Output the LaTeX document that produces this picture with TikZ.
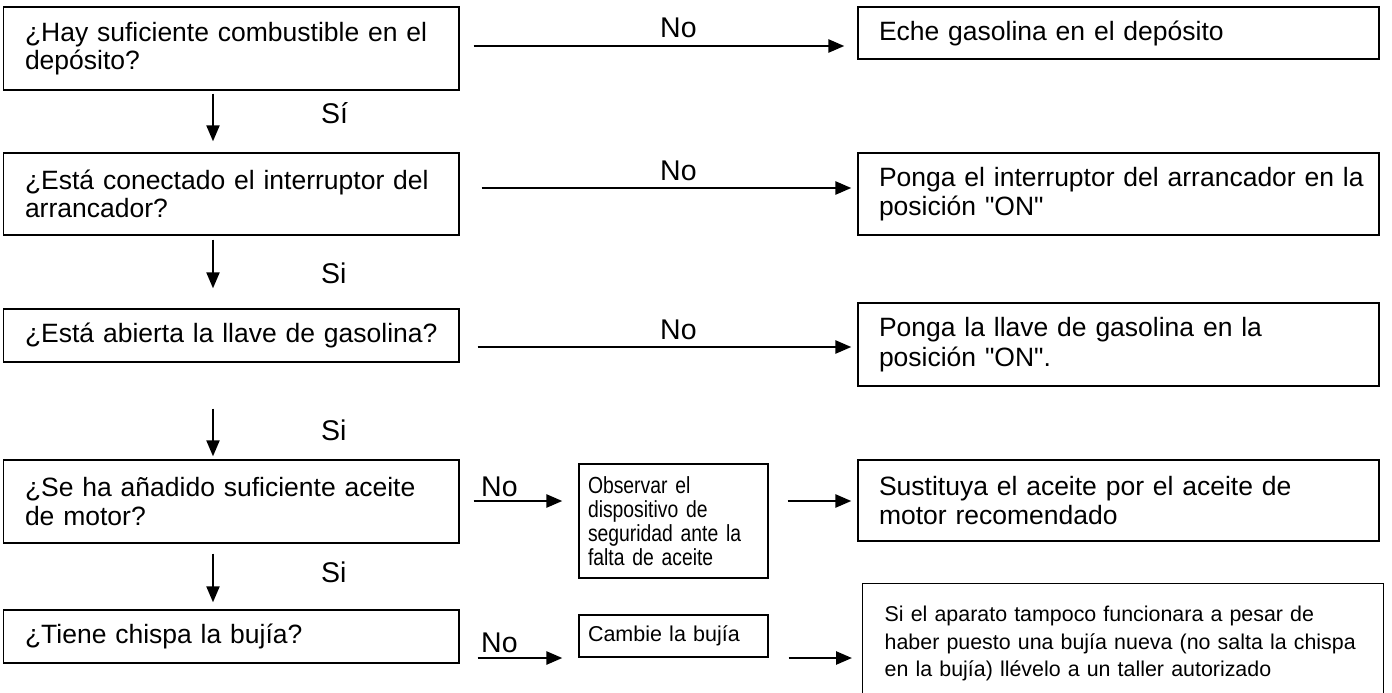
\documentclass[tikz,border=0pt]{standalone}
\usepackage{fontspec}
\setmainfont{Liberation Sans}
\newfontfamily\narrowfont[FakeStretch=0.83]{Liberation Sans}
\usetikzlibrary{arrows.meta}
\tikzset{
  box/.style={draw, line width=1.3pt, inner ysep=0pt, align=left},
  qbox/.style={box, inner xsep=21.5pt, text width=412.5pt, minimum width=455.5pt, font=\fontsize{26.5}{28.5}\selectfont},
  abox/.style={box, inner xsep=21pt, text width=479pt, minimum width=521pt, font=\fontsize{26.5}{29.5}\selectfont},
  sbox/.style={box, inner xsep=9pt, text width=171pt, minimum width=189pt},
  lbl/.style={anchor=base west, inner sep=0pt, font=\fontsize{28.5}{30}\selectfont},
  harr/.style={line width=2.6pt, -{Triangle[length=16pt,width=13pt]}},
  varr/.style={line width=2pt, -{Triangle[length=16pt,width=13pt]}},
}
\begin{document}
\begin{tikzpicture}[x=1pt,y=-1pt]
\useasboundingbox (0,0) rectangle (1392,693);
\clip (0,0) rectangle (1392,693);
\fill[white] (0,0) rectangle (1392,693);

% question boxes
\node[qbox, minimum height=83pt] (b1) at (231.25,48.5) {\mbox{¿Hay suficiente combustible en el}\\depósito?};
\node[qbox, minimum height=82pt] (b2) at (231.25,194) {\mbox{¿Está conectado el interruptor del}\\arrancador?};
\node[qbox, minimum height=53pt] (b3) at (231.25,335.5) {\mbox{¿Está abierta la llave de gasolina?}};
\node[qbox, minimum height=83pt] (b4) at (231.25,501.5) {\mbox{¿Se ha añadido suficiente aceite}\\de motor?};
\node[qbox, minimum height=53pt] (b5) at (231.25,636.5) {¿Tiene chispa la bujía?};

% answer boxes
\node[abox, minimum height=52pt] (r1) at (1118.5,33) {Eche gasolina en el depósito};
\node[abox, minimum height=82pt] (r2) at (1118.5,194) {\mbox{Ponga el interruptor del arrancador en la}\\posición \textquotedbl ON\textquotedbl};
\node[abox, minimum height=83pt] (r3) at (1118.5,344.5) {\mbox{Ponga la llave de gasolina en la}\\posición \textquotedbl ON\textquotedbl .};
\node[abox, minimum height=81pt] (r4) at (1118.5,500.5) {\mbox{Sustituya el aceite por el aceite de}\\motor recomendado};
\node[box, anchor=north west, inner xsep=22pt, text width=477pt, minimum width=521pt, minimum height=120pt,
      font=\fontsize{21.4}{27.5}\selectfont] (r5) at (862,583)
  {\mbox{Si el aparato tampoco funcionara a pesar de}\\\mbox{haber puesto una bujía nueva (no salta la chispa}\\\mbox{en la bujía) llévelo a un taller autorizado}};

% small boxes
\node[sbox, minimum height=114pt, font=\narrowfont\fontsize{23.3}{24}\selectfont] (o) at (673.5,521)
  {\mbox{Observar el}\\\mbox{dispositivo de}\\\mbox{seguridad ante la}\\\mbox{falta de aceite}};
\node[sbox, minimum height=42pt, font=\fontsize{21.5}{25}\selectfont] (c) at (673.5,636) {Cambie la bujía};

% vertical arrows
\draw[varr, shorten <=3pt, shorten >=11pt] ([xshift=-18.25pt]b1.south) -- ([xshift=-18.25pt]b2.north);
\draw[varr, shorten <=4pt, shorten >=20pt] ([xshift=-18.25pt]b2.south) -- ([xshift=-18.25pt]b3.north);
\draw[varr, shorten <=46pt, shorten >=3pt] ([xshift=-18.25pt]b3.south) -- ([xshift=-18.25pt]b4.north);
\draw[varr, shorten <=10pt, shorten >=7pt] ([xshift=-18.25pt]b4.south) -- ([xshift=-18.25pt]b5.north);

\node[lbl] (s1) at (321,123) {Sí};
\node[lbl] (s2) at (321,283) {Si};
\node[lbl] (s3) at (321,440) {Si};
\node[lbl] (s4) at (321,582) {Si};

% horizontal arrows
\coordinate (n1) at ([yshift=2.5pt]b1.east);
\coordinate (n2) at ([yshift=6pt]b2.east);
\coordinate (n3) at ([yshift=-11.5pt]b3.east);
\coordinate (n4) at ([yshift=0.5pt]b4.east);
\coordinate (n5) at ([yshift=-21.5pt]b5.east);
\coordinate (m4) at ([yshift=20pt]o.east);
\coordinate (m5) at ([yshift=-22pt]c.east);

\draw[harr, shorten <=14pt, shorten >=13pt] (n1) -- (n1 -| r1.west);
\draw[harr, shorten <=22pt, shorten >=6pt] (n2) -- (n2 -| r2.west);
\draw[harr, shorten <=18pt, shorten >=6pt] (n3) -- (n3 -| r3.west);
\draw[harr, shorten <=14pt, shorten >=16pt] (n4) -- (n4 -| o.west);
\draw[harr, shorten <=18pt, shorten >=16pt] (n5) -- (n5 -| c.west);
\draw[harr, shorten <=19pt, shorten >=6pt] (m4) -- (m4 -| r4.west);
\draw[harr, shorten <=20pt, shorten >=10pt] (m5) -- (m5 -| r5.west);

\node[lbl] (no1) at (660,38) {No};
\node[lbl] (no2) at (660,180) {No};
\node[lbl] (no3) at (660,339) {No};
\node[lbl] (no4) at (481,496) {No};
\node[lbl] (no5) at (481,652) {No};
\end{tikzpicture}
\end{document}
